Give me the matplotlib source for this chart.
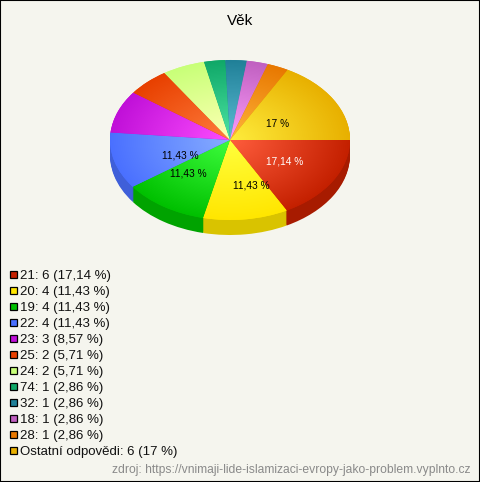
import numpy as np
import matplotlib
matplotlib.use('Agg')
import matplotlib.pyplot as plt
from matplotlib.colors import to_rgb
from matplotlib.patches import Rectangle

plt.rcParams['font.family'] = ['Liberation Sans', 'DejaVu Sans']

# data
categories = ['21', '20', '19', '22', '23', '25', '24', '74', '32', '18', '28', 'Ostatní odpovědi']
counts = [6, 4, 4, 4, 3, 2, 2, 1, 1, 1, 1, 6]
percents = ['17,14', '11,43', '11,43', '11,43', '8,57', '5,71', '5,71', '2,86', '2,86', '2,86', '2,86', '17']
colors = ['#c42000', '#ffe600', '#00c000', '#4a70ff', '#c010d8', '#e84000',
          '#c8ff78', '#10a868', '#208098', '#c060c0', '#e87800', '#e8b000']
shares = [17.14, 11.43, 11.43, 11.43, 8.57, 5.71, 5.71, 2.86, 2.86, 2.86, 2.86, 17]

# which slices have a label on the pie, and where (pixels)
pie_labels = {0: (285, 162), 1: (251, 185), 2: (188, 173), 3: (180, 155), 11: (278, 124)}

W, H = 480, 482
BG = '#f5f5ee'
cx, cy, rx, ry = 230, 140, 120, 80
depth = 15

fig = plt.figure(figsize=(W / 100, H / 100), dpi=100, facecolor=BG)
ax = fig.add_axes([0, 0, 1, 1])

# thick part of the pie: the same pie stacked downwards
dark = [tuple(c * 0.85 for c in to_rgb(col)) for col in colors]
for d in range(depth, 0, -1):
    ax.pie(shares, colors=dark, startangle=0, counterclock=False, center=(0, -d / ry), radius=1)

# top of the pie
wedges, _ = ax.pie(shares, colors=colors, startangle=0, counterclock=False, center=(0, 0), radius=1)

# lighter in the middle, plain colour at the rim
xx, yy = np.meshgrid(np.linspace(-1, 1, 300), np.linspace(-1, 1, 300))
rr = np.clip(np.hypot(xx, yy), 0, 1)[..., None]
for wedge, col in zip(wedges, colors):
    base = np.array(to_rgb(col))
    light = np.clip(base + 0.24, 0, 1)
    img = light * (1 - rr) + base * rr
    im = ax.imshow(img, extent=(-1, 1, -1, 1), origin='lower', aspect='auto', zorder=3,
                   interpolation='bilinear')
    im.set_clip_path(wedge)

ax.set_aspect('auto')
ax.set_xlim(-cx / rx, (W - cx) / rx)
ax.set_ylim((cy - H) / ry, cy / ry)
ax.axis('off')


def px(x, y):
    return x / W, 1 - y / H


fig.text(*px(240, 21), 'Věk', ha='center', va='center', fontsize=11, color='black')

for i, (x, y) in pie_labels.items():
    tc = 'white' if i == 0 else 'black'
    fig.text(*px(x, y), percents[i] + ' %', ha='center', va='center', fontsize=7.3, color=tc, zorder=5)

# legend
for i, (cat, n, p, col) in enumerate(zip(categories, counts, percents, colors)):
    y = 274 + i * 16
    fig.add_artist(Rectangle((9.5 / W, 1 - (y + 3.5) / H), 7 / W, 7 / H, transform=fig.transFigure,
                             facecolor=col, edgecolor='black', linewidth=0.9))
    fig.text(*px(20, y + 1.5), f'{cat}: {n} ({p} %)', ha='left', va='center', fontsize=9.5, color='#111111')

fig.text(*px(470, 470), 'zdroj: https://vnimaji-lide-islamizaci-evropy-jako-problem.vyplnto.cz',
         ha='right', va='center', fontsize=8.7, color='#8a8a8a')

# frame
fig.add_artist(Rectangle((0, 0), 1, 1, transform=fig.transFigure, fill=False,
                         edgecolor='black', linewidth=1.5))

fig.savefig('out.png', dpi=100, facecolor=BG)
